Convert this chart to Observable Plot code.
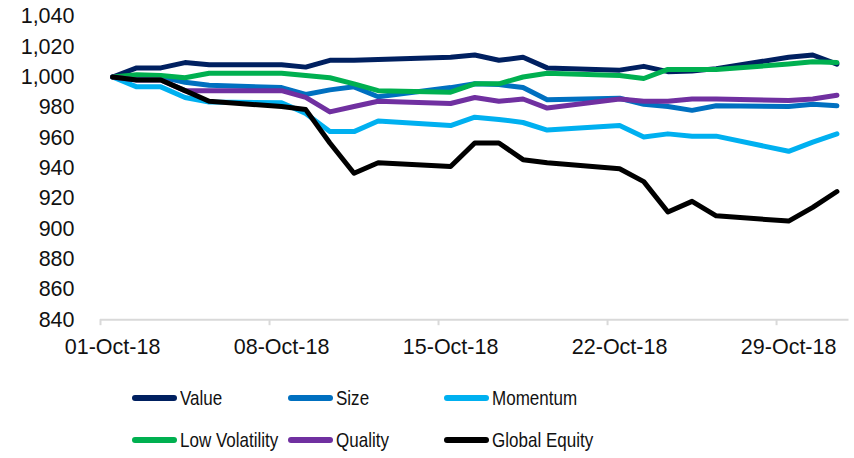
<!DOCTYPE html>
<html>
<head>
<meta charset="utf-8">
<script src="https://cdn.jsdelivr.net/npm/d3@7"></script>
<script src="https://cdn.jsdelivr.net/npm/@observablehq/plot@0.6"></script>
<style>
  html, body { margin: 0; padding: 0; background: #fff; }
  #chart { width: 854px; height: 458px; position: relative; font-family: "Liberation Sans", Arial, sans-serif; }
  .legend { display: grid; grid-template-columns: repeat(3, 156px); grid-auto-rows: 42px; padding-left: 132px; margin-top: 7px; }
  .legend .item { display: flex; align-items: center; font-size: 21px; color: #111; white-space: nowrap; }
  .legend .swatch { display: inline-block; width: 45px; height: 5.5px; border-radius: 3px; margin-right: 3px; flex: none; }
  .legend .name { display: inline-block; transform: scaleX(0.81); transform-origin: left center; }
</style>
</head>
<body>
<div id="chart"></div>
<script>
// Trading days of October 2018 (day of month)
const days = [1, 2, 3, 4, 5, 8, 9, 10, 11, 12, 15, 16, 17, 18, 19, 22, 23, 24, 25, 26, 29, 30, 31];

// Index levels, rebased to 1,000 on 1 October
const value        = [1000, 1006, 1006, 1009.5, 1008, 1008, 1006.5, 1011, 1011, 1011.5, 1013, 1014.5, 1011, 1013, 1006, 1004.5, 1007, 1003.5, 1004, 1005.5, 1013, 1014.5, 1008.5];
const size         = [1000, 1000.5, 1000, 996.5, 994.5, 993, 988.5, 991.5, 993.5, 987, 993, 995.5, 995, 993, 985, 986, 982, 980.5, 978, 981, 980.5, 982, 981];
const momentum     = [1000, 993.5, 993.5, 986.5, 983.5, 983, 976, 964, 964, 971, 968, 973.5, 972, 970, 965, 968, 960.5, 962.5, 961, 961, 951, 957, 962.5];
const lowVol       = [1000, 1001.5, 1001, 999.5, 1002.5, 1002.5, 1001, 999.5, 995.5, 991, 990, 995.5, 995.5, 1000, 1002.5, 1001, 999, 1005, 1005, 1005, 1008.5, 1010, 1009.5];
const quality      = [1000, 998, 998, 991, 991, 991, 986.5, 977, 980.5, 984, 982.5, 986.5, 984, 985.5, 979.5, 985.5, 984, 984, 985.5, 985.5, 984.5, 985.5, 988];
const globalEquity = [1000, 998, 998, 991, 984, 980.5, 978.5, 956.5, 936.5, 943.5, 941, 956.5, 956.5, 945.5, 943.5, 939.5, 931, 911, 918, 908.5, 905, 914, 924.5];

const seriesNames  = ["Value", "Size", "Momentum", "Low Volatility", "Quality", "Global Equity"];
const seriesValues = [value, size, momentum, lowVol, quality, globalEquity];
const seriesColors = ["#002060", "#0070C0", "#00B0F0", "#00B050", "#7030A0", "#000000"];

// Weekly tick dates and y ticks
const tickDays = [1, 8, 15, 22, 29];
const yTicks = [840, 860, 880, 900, 920, 940, 960, 980, 1000, 1020, 1040];

const day = d => new Date(Date.UTC(2018, 9, d));
const rows = seriesNames.flatMap((name, i) =>
  days.map((d, j) => ({series: name, date: day(d), level: seriesValues[i][j]}))
);

// Each day is a category slot: points sit at the slot centre, tick marks on its edges
const half = d => d3.utcHour.offset(d, -12);
const tickDates = tickDays.map(day);
const slotEdges = tickDates.map(half);

const plot = Plot.plot({
  width: 854,
  height: 370,
  marginLeft: 100,
  marginRight: 5.5,
  marginTop: 15.8,
  marginBottom: 50.8,
  style: {fontFamily: "'Liberation Sans', Arial, sans-serif", fontSize: "21.5px", color: "#111", background: "#fff"},
  x: {type: "utc", domain: [half(day(1)), d3.utcDay.offset(half(day(1)), 31)]},
  y: {domain: [840, 1040]},
  color: {domain: seriesNames, range: seriesColors},
  marks: [
    Plot.axisY({ticks: yTicks, tickFormat: d3.format(","), tickSize: 0, tickPadding: 26, label: null}),
    Plot.axisX({ticks: tickDates, tickFormat: d3.utcFormat("%d-%b-%y"), tickSize: 0, tickPadding: 19, label: null}),
    Plot.axisX({ticks: slotEdges, tickFormat: () => "", tickSize: 6, stroke: "#d9d9d9", strokeWidth: 2, label: null}),
    Plot.ruleY([840], {stroke: "#d9d9d9", strokeWidth: 2}),
    Plot.line(rows, {x: "date", y: "level", z: "series", stroke: "series", strokeWidth: 5, strokeLinejoin: "round", strokeLinecap: "round"})
  ]
});

const root = document.getElementById("chart");
root.appendChild(plot);

const legend = document.createElement("div");
legend.className = "legend";
seriesNames.forEach((name, i) => {
  const item = document.createElement("div");
  item.className = "item";
  const sw = document.createElement("span");
  sw.className = "swatch";
  sw.style.background = seriesColors[i];
  const label = document.createElement("span");
  label.className = "name";
  label.textContent = name;
  item.appendChild(sw);
  item.appendChild(label);
  legend.appendChild(item);
});
root.appendChild(legend);
</script>
</body>
</html>
